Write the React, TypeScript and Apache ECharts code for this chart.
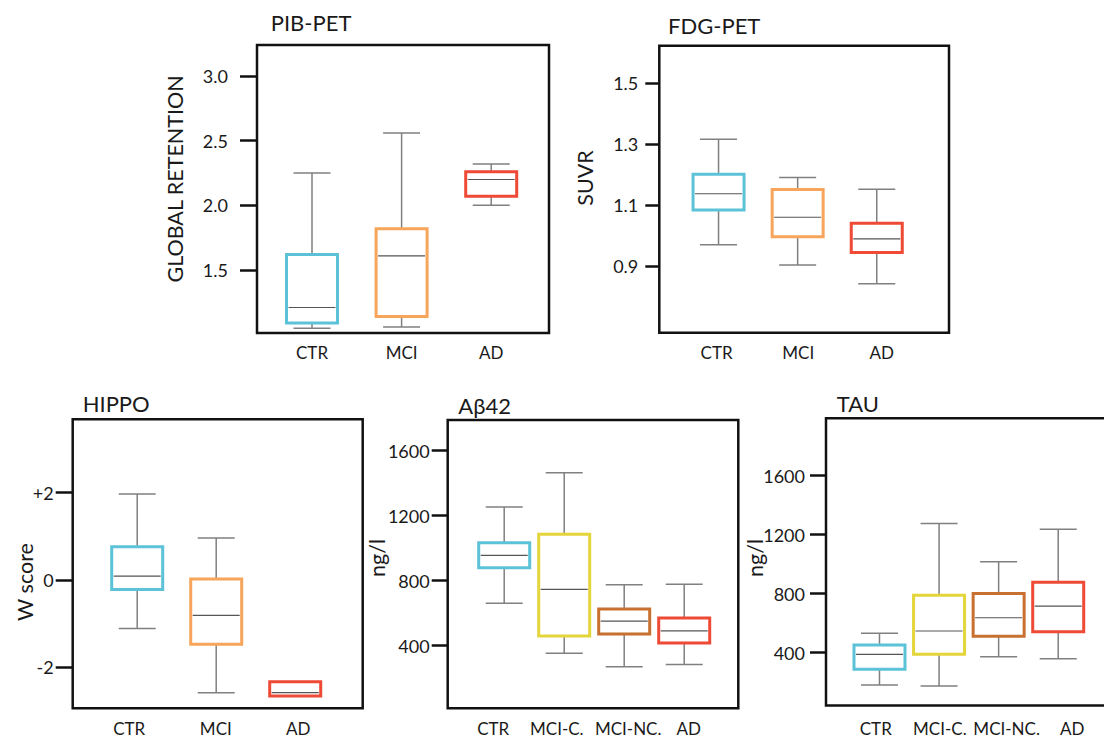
import React, { useEffect, useRef } from "react";
import * as echarts from "echarts";

// ---------- data ----------
const pibCategories = ["CTR", "MCI", "AD"];
const pibValues = [
  [1.05, 1.09, 1.21, 1.62, 2.25],
  [1.06, 1.14, 1.61, 1.82, 2.56],
  [2.0, 2.07, 2.2, 2.26, 2.32],
];
const pibTicks = [1.5, 2.0, 2.5, 3.0];

const fdgCategories = ["CTR", "MCI", "AD"];
const fdgValues = [
  [0.97, 1.084, 1.137, 1.201, 1.316],
  [0.903, 0.996, 1.06, 1.151, 1.19],
  [0.842, 0.944, 0.989, 1.04, 1.152],
];
const fdgTicks = [0.9, 1.1, 1.3, 1.5];

const hippoCategories = ["CTR", "MCI", "AD"];
const hippoValues = [
  [-1.11, -0.22, 0.09, 0.76, 1.97],
  [-2.58, -1.47, -0.81, 0.02, 0.96],
  [-2.66, -2.66, -2.58, -2.33, -2.33],
];
const hippoTicks = [-2, 0, 2];

const abetaCategories = ["CTR", "MCI-C.", "MCI-NC.", "AD"];
const abetaValues = [
  [661, 880, 956, 1034, 1253],
  [353, 460, 747, 1086, 1465],
  [271, 472, 552, 626, 775],
  [285, 417, 492, 570, 778],
];
const abetaTicks = [400, 800, 1200, 1600];

const tauCategories = ["CTR", "MCI-C.", "MCI-NC.", "AD"];
const tauValues = [
  [181, 287, 389, 452, 531],
  [174, 389, 547, 789, 1275],
  [373, 511, 637, 802, 1017],
  [359, 542, 716, 877, 1236],
];
const tauTicks = [400, 800, 1200, 1600];

// ---------- styles ----------
const FONT = "Lato, 'Open Sans', 'DejaVu Sans', sans-serif";
const BLUE = "#5bc2d8";
const ORANGE = "#f6a55a";
const RED = "#ee4a36";
const YELLOW = "#e3d53a";
const BROWN = "#c8702f";
const TEXT = "#1a1a1a";
const CAT_SIZE = 17;
const TICK_SIZE = 18;
const TITLE_SIZE = 22;
const NAME_SIZE = 21.5;

const panels = [
  {
    title: "PIB-PET", yName: "GLOBAL RETENTION",
    cats: pibCategories, values: pibValues, ticks: pibTicks,
    colors: [BLUE, ORANGE, RED],
    fmt: (v: number) => v.toFixed(1),
    frame: [257, 45, 292, 288], gridLeft: 267.2, gridWidth: 268.8,
    yMin: 1.013, yMax: 3.24, titlePos: [270.7, 22], namePos: [175, 179],
    labelMargin: 29, tickLen: 17, xMargin: 11, labelShift: [0, 0, 0],
  },
  {
    title: "FDG-PET", yName: "SUVR",
    cats: fdgCategories, values: fdgValues, ticks: fdgTicks,
    colors: [BLUE, ORANGE, RED],
    fmt: (v: number) => v.toFixed(1),
    frame: [659.3, 45.7, 289.7, 287], gridLeft: 679, gridWidth: 237.3,
    yMin: 0.681, yMax: 1.623, titlePos: [668, 25], namePos: [585, 178],
    labelMargin: 21, tickLen: 14, xMargin: 11, labelShift: [-2, 0.6, 5],
  },
  {
    title: "HIPPO", yName: "W score",
    cats: hippoCategories, values: hippoValues, ticks: hippoTicks,
    colors: [BLUE, ORANGE, RED],
    fmt: (v: number) => (v > 0 ? "+" + v : String(v)),
    frame: [72.7, 419.3, 290, 289], gridLeft: 97.7, gridWidth: 237,
    yMin: -2.939, yMax: 3.681, titlePos: [82.7, 403.3], namePos: [25, 582],
    labelMargin: 19, tickLen: 17, xMargin: 12, labelShift: [-8, -0.4, 3],
  },
  {
    title: "Aβ42", yName: "ng/l",
    cats: abetaCategories, values: abetaValues, ticks: abetaTicks,
    colors: [BLUE, YELLOW, BROWN, RED],
    fmt: (v: number) => String(v),
    frame: [447.7, 420, 290.6, 288.3], gridLeft: 474.2, gridWidth: 240,
    yMin: 15, yMax: 1789, titlePos: [458.3, 405], namePos: [377, 558],
    labelMargin: 18, tickLen: 16, xMargin: 12, labelShift: [-11, -7.4, 4, 4.5],
  },
  {
    title: "TAU", yName: "ng/l",
    cats: tauCategories, values: tauValues, ticks: tauTicks,
    colors: [BLUE, YELLOW, BROWN, RED],
    fmt: (v: number) => String(v),
    frame: [826, 418.3, 292, 287.2], gridLeft: 849.7, gridWidth: 238.3,
    yMin: 42, yMax: 1989, titlePos: [836.7, 403.8], namePos: [755, 558],
    labelMargin: 21, tickLen: 16, xMargin: 14, labelShift: [-3.7, 0.8, 8, 14],
  },
];

function buildOption() {
  const grid: any[] = [];
  const xAxis: any[] = [];
  const yAxis: any[] = [];
  const series: any[] = [];
  const graphic: any[] = [];

  panels.forEach((p, i) => {
    const [fx, fy, fw, fh] = p.frame;
    grid.push({ left: p.gridLeft, top: fy, width: p.gridWidth, height: fh, containLabel: false });
    const rich: any = {};
    p.labelShift.forEach((s, j) => {
      rich["s" + j] = {
        fontSize: CAT_SIZE, fontFamily: FONT, color: TEXT,
        padding: [0, s < 0 ? -2 * s : 0, 0, s > 0 ? 2 * s : 0],
      };
    });
    for (let k = 0; k < 3; k++) {
      xAxis.push({
        type: "category",
        gridIndex: i,
        data: p.cats,
        show: k === 0,
        axisLine: { show: false },
        axisTick: { show: false },
        splitLine: { show: false },
        axisLabel: {
          interval: 0, hideOverlap: false,
          margin: p.xMargin, fontSize: CAT_SIZE, color: TEXT, fontFamily: FONT,
          formatter: (val: string, idx: number) => `{s${idx}|${val}}`,
          rich,
        },
      });
    }
    yAxis.push({
      type: "value",
      gridIndex: i,
      min: p.yMin,
      max: p.yMax,
      offset: p.gridLeft - fx,
      axisLine: { show: false },
      splitLine: { show: false },
      axisTick: {
        show: true, inside: false, length: p.tickLen,
        customValues: p.ticks,
        lineStyle: { color: "#111", width: 2.5 },
      },
      axisLabel: {
        customValues: p.ticks,
        formatter: p.fmt,
        margin: p.labelMargin,
        fontSize: TICK_SIZE,
        color: TEXT,
        fontFamily: FONT,
      },
    });

    // whiskers (gray)
    series.push({
      type: "boxplot",
      xAxisIndex: i * 3,
      yAxisIndex: i,
      silent: true,
      z: 2,
      boxWidth: [37, 37],
      itemStyle: { color: "transparent", borderColor: "#808080", borderWidth: 1.5 },
      data: p.values,
    });
    // coloured boxes
    series.push({
      type: "boxplot",
      xAxisIndex: i * 3 + 1,
      yAxisIndex: i,
      silent: true,
      z: 3,
      boxWidth: [51, 51],
      data: p.values.map((v, j) => ({
        value: [v[1], v[1], v[1], v[3], v[3]],
        itemStyle: { color: "#ffffff", borderColor: p.colors[j], borderWidth: 3 },
      })),
    });
    // medians
    series.push({
      type: "boxplot",
      xAxisIndex: i * 3 + 2,
      yAxisIndex: i,
      silent: true,
      z: 4,
      boxWidth: [47, 47],
      itemStyle: { color: "transparent", borderColor: "#555555", borderWidth: 1.2 },
      data: p.values.map((v) => [v[2], v[2], v[2], v[2], v[2]]),
    });

    graphic.push({
      type: "rect",
      silent: true,
      z: 10,
      shape: { x: fx, y: fy, width: fw, height: fh },
      style: { fill: "none", stroke: "#111", lineWidth: 2.5 },
    });
    graphic.push({
      type: "text",
      silent: true,
      x: p.titlePos[0],
      y: p.titlePos[1],
      style: {
        text: p.title, fontSize: TITLE_SIZE, fontFamily: FONT, fill: TEXT,
        align: "left", verticalAlign: "middle",
      },
    });
    graphic.push({
      type: "text",
      silent: true,
      x: p.namePos[0],
      y: p.namePos[1],
      rotation: Math.PI / 2,
      style: {
        text: p.yName, fontSize: NAME_SIZE, fontFamily: FONT, fill: TEXT,
        align: "center", verticalAlign: "middle",
      },
    });
  });

  return {
    animation: false,
    backgroundColor: "#ffffff",
    grid,
    xAxis,
    yAxis,
    series,
    graphic,
  };
}

export default function App() {
  const ref = useRef<HTMLDivElement>(null);
  useEffect(() => {
    if (!ref.current) return;
    const chart = echarts.init(ref.current, undefined, { renderer: "svg" });
    chart.setOption(buildOption());
    return () => chart.dispose();
  }, []);
  return (
    <div
      ref={ref}
      style={{ position: "fixed", left: 0, top: 0, width: 1104, height: 740, background: "#fff" }}
    />
  );
}
